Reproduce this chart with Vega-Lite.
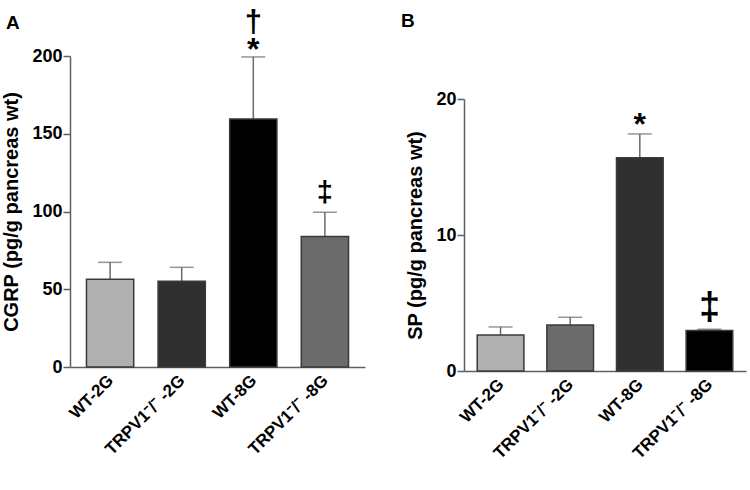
{
  "$schema": "https://vega.github.io/schema/vega-lite/v6.json",
  "padding": {"left": 1, "top": 6, "right": 5, "bottom": 5},
  "background": "white",
  "spacing": 35,
  "config": {
    "font": "Liberation Sans",
    "view": {"stroke": null},
    "axis": {"grid": false, "domainColor": "#606060", "tickColor": "#606060", "domainWidth": 1.5, "tickWidth": 1.5, "labelColor": "#000000", "titleColor": "#000000", "labelFontWeight": "bold", "titleFontWeight": "bold"}
  },
  "datasets": {
    "cgrp": [
      {"group": "WT-2G", "mean": 56.4, "upper": 67.3},
      {"group": "TRPV1⁻/⁻ -2G", "mean": 55.1, "upper": 64.1},
      {"group": "WT-8G", "mean": 159.5, "upper": 199.4},
      {"group": "TRPV1⁻/⁻ -8G", "mean": 84.0, "upper": 99.5}
    ],
    "sp": [
      {"group": "WT-2G", "mean": 2.65, "upper": 3.24},
      {"group": "TRPV1⁻/⁻ -2G", "mean": 3.39, "upper": 3.95},
      {"group": "WT-8G", "mean": 15.68, "upper": 17.43},
      {"group": "TRPV1⁻/⁻ -8G", "mean": 2.97, "upper": 3.07}
    ],
    "annA": [
      {"group": "WT-8G", "upper": 199.4, "symbol": "*"},
      {"group": "WT-8G", "upper": 199.4, "symbol": "†"},
      {"group": "TRPV1⁻/⁻ -8G", "upper": 99.5, "symbol": "‡"}
    ],
    "annB": [
      {"group": "WT-8G", "upper": 17.43, "symbol": "*"},
      {"group": "TRPV1⁻/⁻ -8G", "upper": 3.07, "symbol": "‡"}
    ]
  },
  "hconcat": [
    {
      "width": 295,
      "height": 311,
      "title": {"text": "A", "anchor": "start", "frame": "bounds", "fontSize": 19, "fontWeight": "bold", "offset": -26, "dx": 4},
      "encoding": {
        "x": {"field": "group", "type": "nominal", "sort": null, "title": null,
          "scale": {"domain": ["WT-2G", "TRPV1⁻/⁻ -2G", "WT-8G", "TRPV1⁻/⁻ -8G"], "paddingInner": 0.34, "paddingOuter": 0.23},
          "axis": {"labelAngle": -45, "ticks": false, "labelFontSize": 17, "labelPadding": 5, "labelOffset": -5}}
      },
      "layer": [
        {
          "data": {"name": "cgrp"},
          "mark": {"type": "rule", "color": "#6a6a6a", "strokeWidth": 1.5},
          "encoding": {"y": {"field": "upper", "type": "quantitative"}, "y2": {"field": "mean"}}
        },
        {
          "data": {"name": "cgrp"},
          "mark": {"type": "tick", "color": "#6a6a6a", "size": 24, "thickness": 1.5, "orient": "horizontal"},
          "encoding": {"y": {"field": "upper", "type": "quantitative"}}
        },
        {
          "data": {"name": "cgrp"},
          "mark": {"type": "bar", "stroke": "#3a3a3a", "strokeWidth": 1.5},
          "encoding": {
            "y": {"field": "mean", "type": "quantitative",
              "scale": {"domain": [0, 200]},
              "axis": {"values": [0, 50, 100, 150, 200], "tickSize": 7, "labelFontSize": 18, "labelPadding": 1, "title": "CGRP (pg/g pancreas wt)", "titleFontSize": 20, "titlePadding": 10}},
            "color": {"field": "group", "type": "nominal", "legend": null,
              "scale": {"domain": ["WT-2G", "TRPV1⁻/⁻ -2G", "WT-8G", "TRPV1⁻/⁻ -8G"], "range": ["#b0b0b0", "#303030", "#000000", "#6b6b6b"]}}
          }
        },
        {
          "data": {"name": "annA"},
          "transform": [{"filter": "datum.symbol === '*'"}],
          "mark": {"type": "text", "fontSize": 32, "fontWeight": "bold", "baseline": "alphabetic", "dy": 3, "color": "#000000"},
          "encoding": {"y": {"field": "upper", "type": "quantitative"}, "text": {"field": "symbol"}}
        },
        {
          "data": {"name": "annA"},
          "transform": [{"filter": "datum.symbol === '†'"}],
          "mark": {"type": "text", "fontSize": 31, "fontWeight": "bold", "baseline": "alphabetic", "dy": -25, "color": "#000000"},
          "encoding": {"y": {"field": "upper", "type": "quantitative"}, "text": {"field": "symbol"}}
        },
        {
          "data": {"name": "annA"},
          "transform": [{"filter": "datum.symbol === '‡'"}],
          "mark": {"type": "text", "fontSize": 29, "fontWeight": "bold", "baseline": "alphabetic", "dy": -10, "color": "#000000"},
          "encoding": {"y": {"field": "upper", "type": "quantitative"}, "text": {"field": "symbol"}}
        }
      ],
      "resolve": {"scale": {"y": "shared"}}
    },
    {
      "width": 282,
      "height": 315,
      "title": {"text": "B", "anchor": "start", "frame": "bounds", "fontSize": 19, "fontWeight": "bold", "offset": 25, "dx": -5},
      "encoding": {
        "x": {"field": "group", "type": "nominal", "sort": null, "title": null,
          "scale": {"domain": ["WT-2G", "TRPV1⁻/⁻ -2G", "WT-8G", "TRPV1⁻/⁻ -8G"], "paddingInner": 0.33, "paddingOuter": 0.19},
          "axis": {"labelAngle": -45, "ticks": false, "labelFontSize": 17, "labelPadding": 5, "labelOffset": -5}}
      },
      "layer": [
        {
          "data": {"name": "sp"},
          "mark": {"type": "rule", "color": "#6a6a6a", "strokeWidth": 1.5},
          "encoding": {"y": {"field": "upper", "type": "quantitative"}, "y2": {"field": "mean"}}
        },
        {
          "data": {"name": "sp"},
          "mark": {"type": "tick", "color": "#6a6a6a", "size": 24, "thickness": 1.5, "orient": "horizontal"},
          "encoding": {"y": {"field": "upper", "type": "quantitative"}}
        },
        {
          "data": {"name": "sp"},
          "mark": {"type": "bar", "stroke": "#3a3a3a", "strokeWidth": 1.5},
          "encoding": {
            "y": {"field": "mean", "type": "quantitative",
              "scale": {"domain": [0, 20], "range": [315, 43]},
              "axis": {"values": [0, 10, 20], "tickSize": 7, "labelFontSize": 18, "labelPadding": 1, "title": "SP (pg/g pancreas wt)", "titleFontSize": 20, "titlePadding": 10}},
            "color": {"field": "group", "type": "nominal", "legend": null,
              "scale": {"domain": ["WT-2G", "TRPV1⁻/⁻ -2G", "WT-8G", "TRPV1⁻/⁻ -8G"], "range": ["#b0b0b0", "#6b6b6b", "#303030", "#000000"]}}
          }
        },
        {
          "data": {"name": "annB"},
          "transform": [{"filter": "datum.symbol === '*'"}],
          "mark": {"type": "text", "fontSize": 32, "fontWeight": "bold", "baseline": "alphabetic", "dy": 1, "color": "#000000"},
          "encoding": {"y": {"field": "upper", "type": "quantitative"}, "text": {"field": "symbol"}}
        },
        {
          "data": {"name": "annB"},
          "transform": [{"filter": "datum.symbol === '‡'"}],
          "mark": {"type": "text", "fontSize": 38, "fontWeight": "bold", "baseline": "alphabetic", "dy": -10, "color": "#000000"},
          "encoding": {"y": {"field": "upper", "type": "quantitative"}, "text": {"field": "symbol"}}
        }
      ],
      "resolve": {"scale": {"y": "shared"}}
    }
  ],
  "resolve": {"scale": {"x": "independent", "y": "independent", "color": "independent"}}
}
